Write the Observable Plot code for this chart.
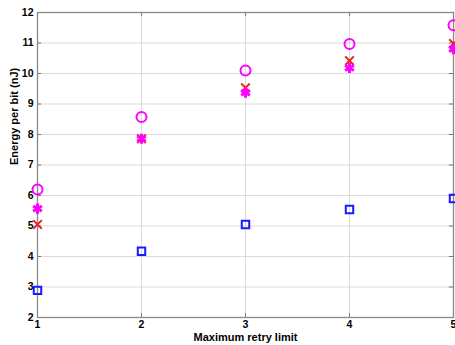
<!DOCTYPE html>
<html>
<head>
<meta charset="utf-8">
<script src="https://cdn.jsdelivr.net/npm/d3@7"></script>
<script src="https://cdn.jsdelivr.net/npm/@observablehq/plot@0.6"></script>
<style>
  html, body { margin: 0; padding: 0; background: #fff; overflow: hidden; }
  #chart svg { overflow: hidden; }
</style>
</head>
<body>
<div id="chart"></div>
<script>
const retryLimit = [1, 2, 3, 4, 5];
const seriesCircle = [6.2, 8.57, 10.1, 10.97, 11.58];
const seriesAsterisk = [5.57, 7.86, 9.37, 10.18, 10.8];
const seriesCross = [5.05, 7.86, 9.53, 10.42, 10.98];
const seriesSquare = [2.89, 4.17, 5.05, 5.54, 5.9];
const xTicks = [1, 2, 3, 4, 5];
const yTicks = [2, 3, 4, 5, 6, 7, 8, 9, 10, 11, 12];

const toRows = (vals) => retryLimit.map((x, i) => ({x, y: vals[i]}));
const fmt = d => String(d);

const chart = Plot.plot({
  width: 455,
  height: 345,
  marginLeft: 37,
  marginRight: 2,
  marginTop: 12,
  marginBottom: 28,
  style: {fontFamily: "Liberation Sans, Arial, sans-serif", fontSize: "10px", fontWeight: "bold", color: "#000", background: "#fff"},
  x: {domain: [1, 5], label: null},
  y: {domain: [2, 12], label: null},
  marks: [
    Plot.gridX(xTicks, {stroke: "#ccc", strokeOpacity: 0.7, strokeWidth: 1}),
    Plot.gridY(yTicks, {stroke: "#ccc", strokeOpacity: 0.7, strokeWidth: 1}),
    Plot.ruleX(xTicks.map(x => ({x, y1: 2, y2: 2.13})), {x: "x", y1: "y1", y2: "y2", stroke: "#777"}),
    Plot.ruleX(xTicks.map(x => ({x, y1: 11.87, y2: 12})), {x: "x", y1: "y1", y2: "y2", stroke: "#777"}),
    Plot.ruleY(yTicks.map(y => ({y, x1: 1, x2: 1.04})), {y: "y", x1: "x1", x2: "x2", stroke: "#777"}),
    Plot.ruleY(yTicks.map(y => ({y, x1: 4.96, x2: 5})), {y: "y", x1: "x1", x2: "x2", stroke: "#777"}),
    Plot.frame({stroke: "#888", strokeWidth: 1.3}),
    Plot.axisX(xTicks, {tickSize: 0, tickPadding: 3, tickFormat: fmt, fontWeight: "bold", fontSize: 10.5, label: null}),
    Plot.axisY(yTicks, {tickSize: 0, tickPadding: 4, tickFormat: fmt, fontWeight: "bold", fontSize: 10.5, label: null}),
    Plot.text(["Maximum retry limit"], {frameAnchor: "bottom", dy: 23, fontSize: 11, fontWeight: "bold"}),
    Plot.text(["Energy per bit (nJ)"], {frameAnchor: "left", dx: -23, rotate: -90, fontSize: 11, fontWeight: "bold"}),
    Plot.dot(toRows(seriesSquare), {x: "x", y: "y", symbol: "square", r: 4.2, stroke: "#1a1aff", strokeWidth: 2, fill: "none"}),
    Plot.dot(toRows(seriesCross), {x: "x", y: "y", symbol: "times", r: 4, stroke: "#ee2222", strokeWidth: 2}),
    Plot.dot(toRows(seriesAsterisk), {x: "x", y: "y", symbol: "asterisk", r: 4.8, stroke: "#ff00ff", strokeWidth: 3}),
    Plot.dot(toRows(seriesCircle), {x: "x", y: "y", symbol: "circle", r: 5, stroke: "#ff00ff", strokeWidth: 2, fill: "none"})
  ]
});
document.getElementById("chart").appendChild(chart);
</script>
</body>
</html>
